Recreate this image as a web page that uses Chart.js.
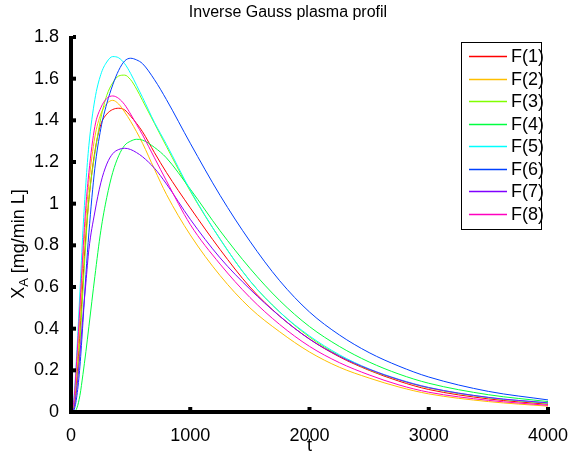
<!DOCTYPE html>
<html><head><meta charset="utf-8">
<script src="https://cdn.jsdelivr.net/npm/chart.js@4.4.1/dist/chart.umd.min.js"></script>
<style>html,body{margin:0;padding:0;background:#fff;overflow:hidden;}</style>
</head><body>
<canvas id="c" width="569" height="453"></canvas>
<script>
// ---- data ----
const times = [0,25,50,75,100,125,150,200,250,300,350,400,450,500,550,600,700,800,1000,1250,1500,1750,2000,2250,2500,2750,3000,3500,4000];
const f1 = [0,0.03,0.17,0.38,0.63,0.85,1.02,1.25,1.38,1.43,1.452,1.458,1.45,1.42,1.385,1.345,1.245,1.15,0.98,0.78,0.60,0.46,0.35,0.265,0.20,0.148,0.108,0.063,0.037];
const f2 = [0,0.04,0.22,0.45,0.72,0.93,1.10,1.32,1.43,1.48,1.496,1.478,1.44,1.395,1.345,1.29,1.165,1.045,0.85,0.655,0.50,0.385,0.288,0.215,0.163,0.12,0.087,0.05,0.028];
const f3 = [0,0.02,0.13,0.33,0.58,0.82,1.02,1.24,1.41,1.52,1.58,1.613,1.617,1.595,1.55,1.495,1.385,1.275,1.06,0.83,0.63,0.48,0.36,0.27,0.203,0.154,0.115,0.068,0.041];
const f4 = [0,0,0.02,0.08,0.18,0.29,0.41,0.65,0.87,1.03,1.15,1.23,1.28,1.30,1.309,1.305,1.27,1.22,1.07,0.87,0.69,0.535,0.41,0.315,0.24,0.182,0.138,0.083,0.05];
const f5 = [0,0.07,0.30,0.58,0.87,1.10,1.28,1.50,1.62,1.68,1.706,1.70,1.672,1.625,1.568,1.51,1.39,1.285,1.065,0.83,0.63,0.48,0.365,0.275,0.207,0.157,0.118,0.07,0.043];
const f6 = [0,0.01,0.08,0.22,0.43,0.66,0.86,1.17,1.36,1.48,1.57,1.64,1.685,1.698,1.69,1.672,1.595,1.50,1.29,1.04,0.82,0.63,0.48,0.37,0.285,0.22,0.168,0.099,0.058];
const f7 = [0,0.02,0.12,0.28,0.46,0.62,0.78,0.96,1.10,1.19,1.24,1.26,1.266,1.26,1.245,1.225,1.17,1.095,0.925,0.74,0.59,0.46,0.35,0.268,0.205,0.155,0.117,0.07,0.044];
const f8 = [0,0.06,0.27,0.51,0.77,0.99,1.15,1.37,1.46,1.505,1.517,1.505,1.475,1.43,1.38,1.33,1.22,1.11,0.90,0.71,0.55,0.42,0.315,0.237,0.178,0.13,0.095,0.056,0.032];
const seriesValues = [f1,f2,f3,f4,f5,f6,f7,f8];
const seriesLabels = ['F(1)','F(2)','F(3)','F(4)','F(5)','F(6)','F(7)','F(8)'];
const seriesColors = ['#ff0000','#ffbf00','#80ff00','#00ff40','#00ffff','#0040ff','#8000ff','#ff00bf'];
const xTicks = [0,1000,2000,3000,4000];
const yTicks = [0,0.2,0.4,0.6,0.8,1,1.2,1.4,1.6,1.8];
const titleText = 'Inverse Gauss plasma profil';
const xLabelText = 't';
const yLabelMain = 'X', yLabelSub = 'A', yLabelRest = ' [mg/min L]';

const FONT = '"Liberation Sans", Arial, Helvetica, sans-serif';

const datasets = seriesValues.map((vals, i) => ({
  label: seriesLabels[i],
  data: times.map((t, j) => ({x: t, y: vals[j]})),
  borderColor: seriesColors[i],
  backgroundColor: seriesColors[i],
  borderWidth: 1,
  pointRadius: 0,
  fill: false,
  cubicInterpolationMode: 'monotone',
  order: seriesValues.length - i
}));

const decorPlugin = {
  id: 'decor',
  afterDatasetsDraw(chart) {
    const ctx = chart.ctx;
    const a = chart.chartArea;
    const xs = chart.scales.x, ys = chart.scales.y;
    ctx.save();
    ctx.fillStyle = '#000';
    // axes (thick, MATLAB-like)
    ctx.fillRect(a.left - 2, a.bottom - 2, a.right - a.left + 4, 4);
    ctx.fillRect(a.left - 2, a.top - 1, 4, a.bottom - a.top + 3);
    // inward ticks
    xTicks.forEach(v => { const p = xs.getPixelForValue(v); ctx.fillRect(p - 2, a.bottom - 5, 4, 3); });
    yTicks.forEach(v => { const p = ys.getPixelForValue(v); ctx.fillRect(a.left + 2, p - 2, 3, 4); });

    // title
    ctx.textAlign = 'center';
    ctx.textBaseline = 'middle';
    ctx.font = '16px ' + FONT;
    ctx.fillText(titleText, 288, 13);
    // x label
    ctx.font = '18px ' + FONT;
    ctx.fillText(xLabelText, (a.left + a.right) / 2, 446);
    // y label with subscript
    ctx.save();
    ctx.translate(17, 244);
    ctx.rotate(-Math.PI / 2);
    ctx.textAlign = 'left';
    ctx.textBaseline = 'alphabetic';
    ctx.font = '18px ' + FONT;
    const wX = ctx.measureText(yLabelMain).width;
    const wR = ctx.measureText(yLabelRest).width;
    ctx.font = '13px ' + FONT;
    const wA = ctx.measureText(yLabelSub).width;
    let sx = -(wX + wA + wR) / 2;
    ctx.font = '18px ' + FONT;
    ctx.fillText(yLabelMain, sx, 6.5);
    ctx.font = '13px ' + FONT;
    ctx.fillText(yLabelSub, sx + wX, 10.5);
    ctx.font = '18px ' + FONT;
    ctx.fillText(yLabelRest, sx + wX + wA, 6.5);
    ctx.restore();

    // legend
    const bx = 461.5, by = 42.5, bw = 80, bh = 187;
    ctx.fillStyle = '#fff';
    ctx.fillRect(bx, by, bw, bh);
    ctx.strokeStyle = '#000';
    ctx.lineWidth = 1;
    ctx.strokeRect(bx, by, bw, bh);
    ctx.textAlign = 'left';
    ctx.textBaseline = 'middle';
    ctx.font = '18px ' + FONT;
    seriesLabels.forEach((lab, i) => {
      const y = Math.round(56 + i * 22.5) + 0.5;
      ctx.strokeStyle = seriesColors[i];
      ctx.lineWidth = 1.3;
      ctx.beginPath(); ctx.moveTo(469, y); ctx.lineTo(507, y); ctx.stroke();
      ctx.fillStyle = '#000';
      ctx.fillText(lab, 511, y + 1);
    });
    ctx.restore();
  }
};

new Chart(document.getElementById('c'), {
  type: 'line',
  data: { datasets },
  options: {
    responsive: false,
    devicePixelRatio: 1,
    animation: false,
    layout: { padding: { top: 37, right: 21, left: 0, bottom: 0 } },
    plugins: { legend: { display: false }, tooltip: { enabled: false }, title: { display: false } },
    scales: {
      x: {
        type: 'linear', min: 0, max: 4000,
        afterBuildTicks: s => { s.ticks = xTicks.map(v => ({value: v})); },
        afterFit: s => { s.height = 41; s.paddingLeft = 0; s.paddingRight = 0; },
        grid: { display: false }, border: { display: false },
        ticks: { color: '#000', font: { size: 18, family: FONT }, padding: 5, maxRotation: 0, autoSkip: false,
          callback: v => String(v) }
      },
      y: {
        type: 'linear', min: 0, max: 1.8,
        afterBuildTicks: s => { s.ticks = yTicks.map(v => ({value: v})); },
        afterFit: s => { s.width = 71; s.paddingTop = 0; s.paddingBottom = 0; },
        grid: { display: false }, border: { display: false },
        ticks: { color: '#000', font: { size: 18, family: FONT }, padding: 4, autoSkip: false,
          callback: v => String(+Number(v).toFixed(1)) }
      }
    }
  },
  plugins: [decorPlugin]
});
</script>
</body></html>
